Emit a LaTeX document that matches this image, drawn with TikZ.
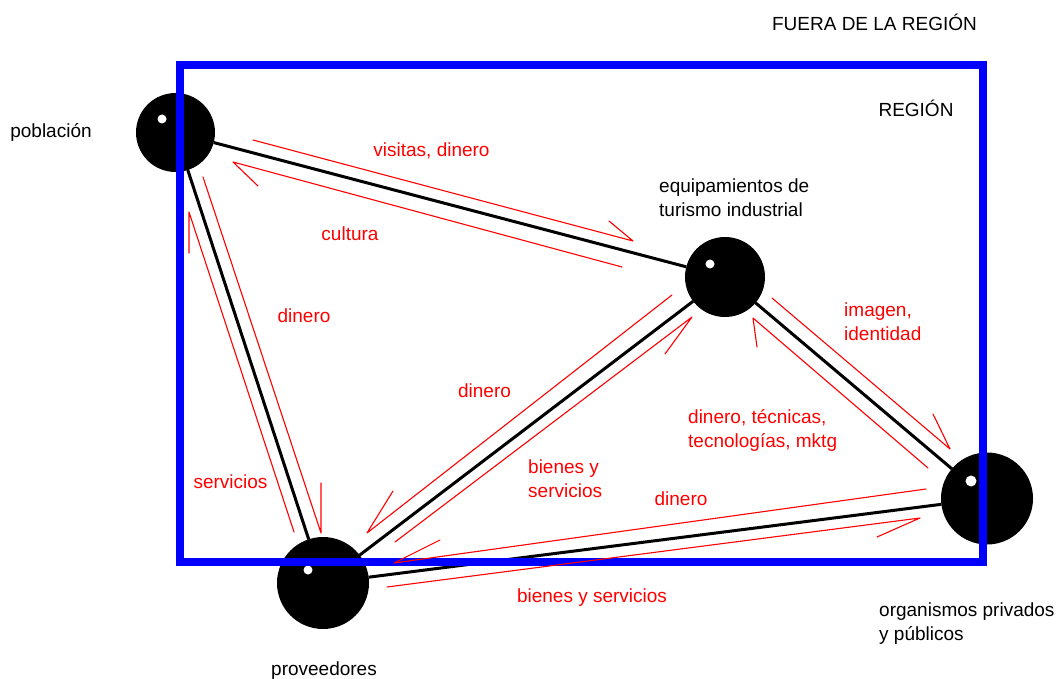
\documentclass[tikz,border=0pt]{standalone}
\usepackage{fontspec}
\setmainfont{Liberation Sans}
\definecolor{flowred}{RGB}{255,0,0}
\definecolor{regionblue}{RGB}{0,0,255}
% one flow arrow: shaft from tail to tip, then a single barb back from the tip
\newcommand\flowarrow[3]{\draw[flow] (#1) -- (#2) -- (#3);}
\begin{document}
\begin{tikzpicture}[x=1pt,y=-1pt,
  ball/.style={circle, fill=black, inner sep=0pt, outer sep=0pt},
  shine/.style={circle, fill=white, inner sep=0pt, minimum size=9pt},
  tie/.style={line width=3pt, draw=black},
  flow/.style={line width=1.1pt, draw=flowred, line cap=round, line join=round},
  redtext/.style={text=flowred, font=\fontsize{19}{24}\selectfont, inner sep=0pt, align=left},
  blacktext/.style={text=black, font=\fontsize{19}{24}\selectfont, inner sep=0pt, align=left},
  regionframe/.style={draw=regionblue, line width=8pt}
]
\useasboundingbox (0,0) rectangle (1062,679);

% actors
\node[ball, minimum size=79pt] (pob)   at (175.5,132.5) {};
\node[ball, minimum size=80pt] (equip) at (725,277) {};
\node[ball, minimum size=92pt] (org)   at (987,498.5) {};
\node[ball, minimum size=92pt] (prov)  at (323,583) {};

\node[shine] (pob-dot)   at (162,119) {};
\node[shine] (equip-dot) at (710,264) {};
\node[shine, minimum size=11pt] (org-dot) at (971,481) {};
\node[shine] (prov-dot)  at (308,570) {};

% relations
\draw[tie] (pob) -- (equip);
\draw[tie] (pob) -- (prov);
\draw[tie] (equip) -- (org);
\draw[tie] (prov) -- (equip);
\draw[tie] (prov) -- (org);

% region boundary
\draw[regionframe] (180,65) rectangle (983,561.5);

% flows
\coordinate (vd-t) at (253,140); \coordinate (vd-p) at (633,241); \coordinate (vd-b) at (609,221);
\coordinate (cu-t) at (622,267); \coordinate (cu-p) at (233,162); \coordinate (cu-b) at (258,186);
\coordinate (dp-t) at (203,177); \coordinate (dp-p) at (321,533); \coordinate (dp-b) at (321,483);
\coordinate (se-t) at (294,532); \coordinate (se-p) at (189,212); \coordinate (se-b) at (189,253);
\coordinate (im-t) at (772,298); \coordinate (im-p) at (950,449); \coordinate (im-b) at (933,414);
\coordinate (dt-t) at (928,468); \coordinate (dt-p) at (753,318); \coordinate (dt-b) at (757,347);
\coordinate (de-t) at (672,295); \coordinate (de-p) at (367,533); \coordinate (de-b) at (393,491);
\coordinate (be-t) at (395,542); \coordinate (be-p) at (692,317); \coordinate (be-b) at (665,354);
\coordinate (do-t) at (926,489); \coordinate (do-p) at (394,563); \coordinate (do-b) at (440,540);
\coordinate (bo-t) at (387,587); \coordinate (bo-p) at (920,518); \coordinate (bo-b) at (877,537);

\flowarrow{vd-t}{vd-p}{vd-b}
\flowarrow{cu-t}{cu-p}{cu-b}
\flowarrow{dp-t}{dp-p}{dp-b}
\flowarrow{se-t}{se-p}{se-b}
\flowarrow{im-t}{im-p}{im-b}
\flowarrow{dt-t}{dt-p}{dt-b}
\flowarrow{de-t}{de-p}{de-b}
\flowarrow{be-t}{be-p}{be-b}
\flowarrow{do-t}{do-p}{do-b}
\flowarrow{bo-t}{bo-p}{bo-b}

% flow labels (two-line labels are placed by the baseline of their last line)
\node[redtext, anchor=base] (l-vd) at (431.5,157) {visitas, dinero};
\node[redtext, anchor=base] (l-cu) at (350,240) {cultura};
\node[redtext, anchor=base] (l-dp) at (304,322) {dinero};
\node[redtext, anchor=base] (l-se) at (230.5,488) {servicios};
\node[redtext, anchor=base west] (l-im) at (844,340) {imagen,\\identidad};
\node[redtext, anchor=base west] (l-dt) at (688,447) {dinero, técnicas,\\tecnologías, mktg};
\node[redtext, anchor=base] (l-de) at (484.5,397) {dinero};
\node[redtext, anchor=base west] (l-be) at (528,497) {bienes y\\servicios};
\node[redtext, anchor=base] (l-do) at (681,505) {dinero};
\node[redtext, anchor=base] (l-bo) at (592,602) {bienes y servicios};

% actor and area names
\node[blacktext, anchor=base] (t-fuera) at (874.5,30.5) {FUERA DE LA REGIÓN};
\node[blacktext, anchor=base] (t-region) at (916,117) {REGIÓN};
\node[blacktext, anchor=base] (t-pob) at (51,138) {población};
\node[blacktext, anchor=base west] (t-equip) at (659,216) {equipamientos de\\turismo industrial};
\node[blacktext, anchor=base] (t-prov) at (324,675) {proveedores};
\node[blacktext, anchor=base west] (t-org) at (879,640) {organismos privados\\y públicos};
\end{tikzpicture}
\end{document}
